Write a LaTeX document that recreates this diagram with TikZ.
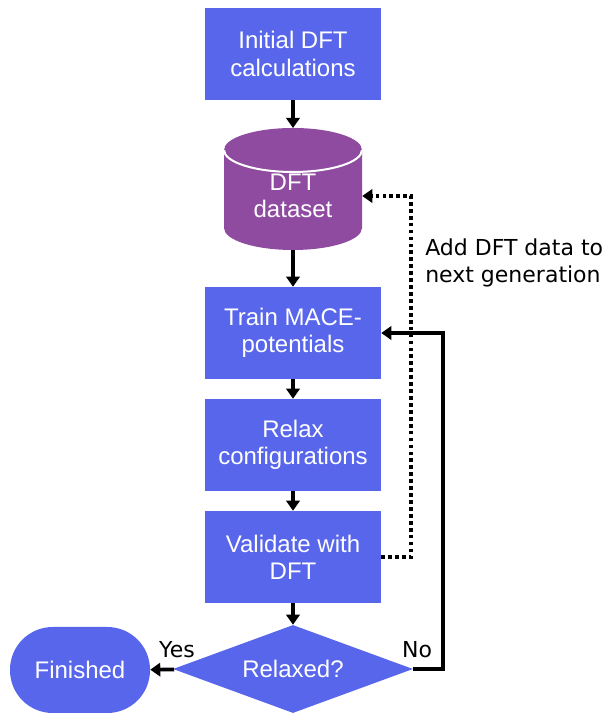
\documentclass[tikz,border=0pt]{standalone}
\usepackage{fontspec}
\setmainfont{Liberation Sans}
\newfontfamily\sidefont{DejaVu Sans}
\usetikzlibrary{shapes.geometric,arrows.meta}
\definecolor{stepblue}{RGB}{88,102,235}
\definecolor{dbpurple}{RGB}{142,75,160}

\begin{document}
\begin{tikzpicture}[x=0.75pt,y=0.75pt,
	stepbox/.style={fill=stepblue, text=white, minimum width=132pt, minimum height=69pt,
		inner sep=0pt, align=center, font=\fontsize{18}{20.5}\selectfont},
	flow/.style={line width=2.8pt, -{Triangle[length=7.5pt,width=10pt]}},
	feed/.style={line width=2.8pt, dash pattern=on 2.8pt off 2.4pt, -{Triangle[length=7.5pt,width=10pt]}},
	side/.style={font=\sidefont\fontsize{16.5}{20}\selectfont, inner sep=0pt}]
	\useasboundingbox (0,0) rectangle (616,713);
	
	% the database
	\fill[dbpurple] (224,563) -- (224,485) arc[start angle=180,end angle=360,x radius=51.75pt,y radius=16.5pt]
		-- (362,563) arc[start angle=0,end angle=180,x radius=51.75pt,y radius=16.5pt] -- cycle;
	\draw[white,line width=1.5pt] (224,563) arc[start angle=180,end angle=360,x radius=51.75pt,y radius=16.5pt];
	\coordinate (dfttop) at (293,585);
	\coordinate (dftbot) at (293,463);
	
	\node[stepbox] (init) at (293,659) {Initial DFT\\calculations};
	\node[stepbox, fill=none, minimum width=103.5pt, minimum height=40pt] (dft) at (293,517) {DFT\\dataset};
	\node[stepbox] (train) at (293,380) {Train MACE-\\potentials};
	\node[stepbox] (relax) at (293,268) {Relax\\configurations};
	\node[stepbox] (valid) at (293,156) {Validate with\\DFT};
	\node[stepbox, diamond, aspect=2.73, minimum width=180pt, minimum height=66pt] (relaxed) at (293,44) {Relaxed?};
	\node[stepbox, rounded corners=32pt, minimum width=105pt, minimum height=64.5pt] (done) at (80,43) {Finished};
	
	\draw[flow] (init) -- (dfttop);
	\draw[flow] (dftbot) -- (train);
	\draw[flow] (train) -- (relax);
	\draw[flow] (relax) -- (valid);
	\draw[flow] (valid) -- (relaxed);
	\draw[flow] (relaxed) -- (done);
	
	% loops back
	\draw[flow] (relaxed.east) -- ++(30,0) |- (train.east);
	\draw[feed] (valid.east) -- ++(30,0) |- (dft.east);
	
	\node[side, anchor=west, align=left] (note) at (425,450) {Add DFT data to\\next generation};
	\node[side] (yes) at (177,63) {Yes};
	\node[side] (no) at (417,63) {No};
\end{tikzpicture}
\end{document}
